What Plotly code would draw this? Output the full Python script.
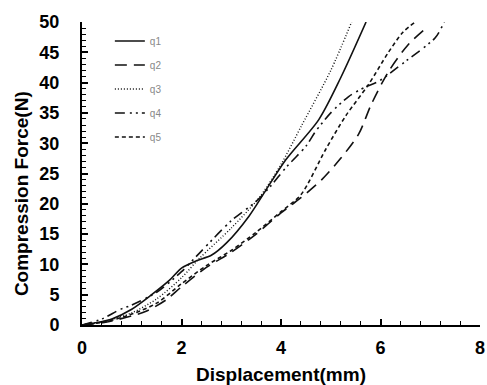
import plotly.graph_objects as go

# ---- data ----
q1_x = [0, 0.3, 0.6, 1.0, 1.4, 1.76, 2.0, 2.3, 2.6, 2.9, 3.36, 3.7, 4.1, 4.76, 5.2, 5.71]
q1_y = [0, 0.4, 1.0, 2.6, 5.0, 7.4, 9.4, 10.6, 11.5, 13.5, 18.0, 22.3, 27.3, 33.9, 40.8, 50]

q2_x = [0, 0.5, 1.0, 1.3, 1.7, 2.0, 2.5, 3.0, 3.5, 4.0, 4.4, 4.82, 5.2, 5.56, 5.82, 6.16, 6.56, 6.96]
q2_y = [0, 0.5, 1.5, 2.3, 4.2, 6.3, 9.5, 12.0, 15.0, 18.5, 21.0, 24.0, 27.5, 31.5, 36.5, 41.8, 46.3, 49.3]

q3_x = [0, 0.5, 1.0, 1.5, 2.0, 2.36, 3.0, 3.56, 4.0, 4.42, 5.0, 5.42]
q3_y = [0, 0.7, 2.0, 4.3, 7.8, 11.0, 16.0, 21.0, 26.5, 33.0, 42.0, 50]

q4_x = [0, 0.4, 0.75, 1.0, 1.5, 2.0, 2.4, 3.0, 3.5, 3.8, 4.1, 4.5, 4.7, 5.0, 5.36, 5.7, 5.96, 6.5, 7.1, 7.28]
q4_y = [0, 1.0, 2.5, 3.3, 5.4, 8.8, 12.2, 17.2, 20.4, 23.0, 26.0, 29.5, 32.0, 35.0, 37.7, 39.3, 40.2, 43.5, 47.4, 50]

q5_x = [0, 0.5, 1.0, 1.5, 2.0, 2.5, 3.0, 3.5, 4.0, 4.4, 4.9, 5.3, 5.76, 6.16, 6.45, 6.7]
q5_y = [0, 0.6, 1.8, 3.6, 6.8, 9.8, 12.3, 15.3, 18.7, 21.5, 29.0, 34.5, 39.7, 45.0, 48.3, 50]

names = ["q1", "q2", "q3", "q4", "q5"]
xs = [q1_x, q2_x, q3_x, q4_x, q5_x]
ys = [q1_y, q2_y, q3_y, q4_y, q5_y]
dashes = ["solid", "12px,7px", "1px,2px", "10px,5px,2px,4px,2px,4px", "4px,3px"]
widths = [1.6, 1.6, 1.4, 1.6, 1.6]

x_ticks = [0, 2, 4, 6, 8]
y_ticks = [0, 5, 10, 15, 20, 25, 30, 35, 40, 45, 50]

fig = go.Figure()
for i, (n, x, y) in enumerate(zip(names, xs, ys)):
    fig.add_trace(go.Scatter(
        x=x, y=y, name=n, mode="lines",
        line=dict(color="#111111", width=widths[i], dash=dashes[i], shape="spline", smoothing=0.8),
        legendgroup=n,
    ))

font_b = "Liberation Sans, Arial, sans-serif"

fig.update_layout(
    width=487, height=385,
    margin=dict(l=82, r=7, t=22, b=60, autoexpand=False),
    paper_bgcolor="white", plot_bgcolor="white",
    showlegend=True,
    legend=dict(
        x=0.07, y=0.985, xanchor="left", yanchor="top",
        bgcolor="rgba(0,0,0,0)", borderwidth=0,
        font=dict(family=font_b, size=10, color="#888888"),
        tracegroupgap=5, itemwidth=30,
    ),
    xaxis=dict(
        range=[0, 8], tickvals=x_ticks, ticktext=[str(v) for v in x_ticks],
        showgrid=False, zeroline=False, automargin=False,
        showline=True, linecolor="black", linewidth=2,
        ticks="inside", ticklen=6, tickwidth=1.5, tickcolor="black",
        minor=dict(dtick=0.4, ticks="inside", ticklen=4, tickwidth=1.2, tickcolor="black", showgrid=False),
        tickfont=dict(family=font_b, size=18, color="black", weight="bold"),
        ticklabelstandoff=5,
    ),
    yaxis=dict(
        range=[0, 50], tickvals=y_ticks, ticktext=[str(v) for v in y_ticks],
        showgrid=False, zeroline=False, automargin=False,
        showline=True, linecolor="black", linewidth=2,
        ticks="inside", ticklen=6, tickwidth=1.5, tickcolor="black",
        minor=dict(dtick=1, ticks="inside", ticklen=4, tickwidth=1.2, tickcolor="black", showgrid=False),
        tickfont=dict(family=font_b, size=18, color="black", weight="bold"),
        ticklabelstandoff=17,
    ),
    annotations=[
        dict(
            text="<b>Compression Force(N)</b>", textangle=-90,
            xref="paper", yref="paper", x=-0.15, y=0.433,
            xanchor="center", yanchor="middle", showarrow=False,
            font=dict(family=font_b, size=19, color="black"),
        ),
        dict(
            text="<b>Displacement(mm)</b>",
            xref="paper", yref="paper", x=0.5, y=-0.165,
            xanchor="center", yanchor="middle", showarrow=False,
            font=dict(family=font_b, size=19, color="black"),
        ),
    ],
)

fig.write_html(
    "out.html",
    config={"displayModeBar": False},
    post_script="document.body.style.margin='0';document.body.style.padding='0';",
)
